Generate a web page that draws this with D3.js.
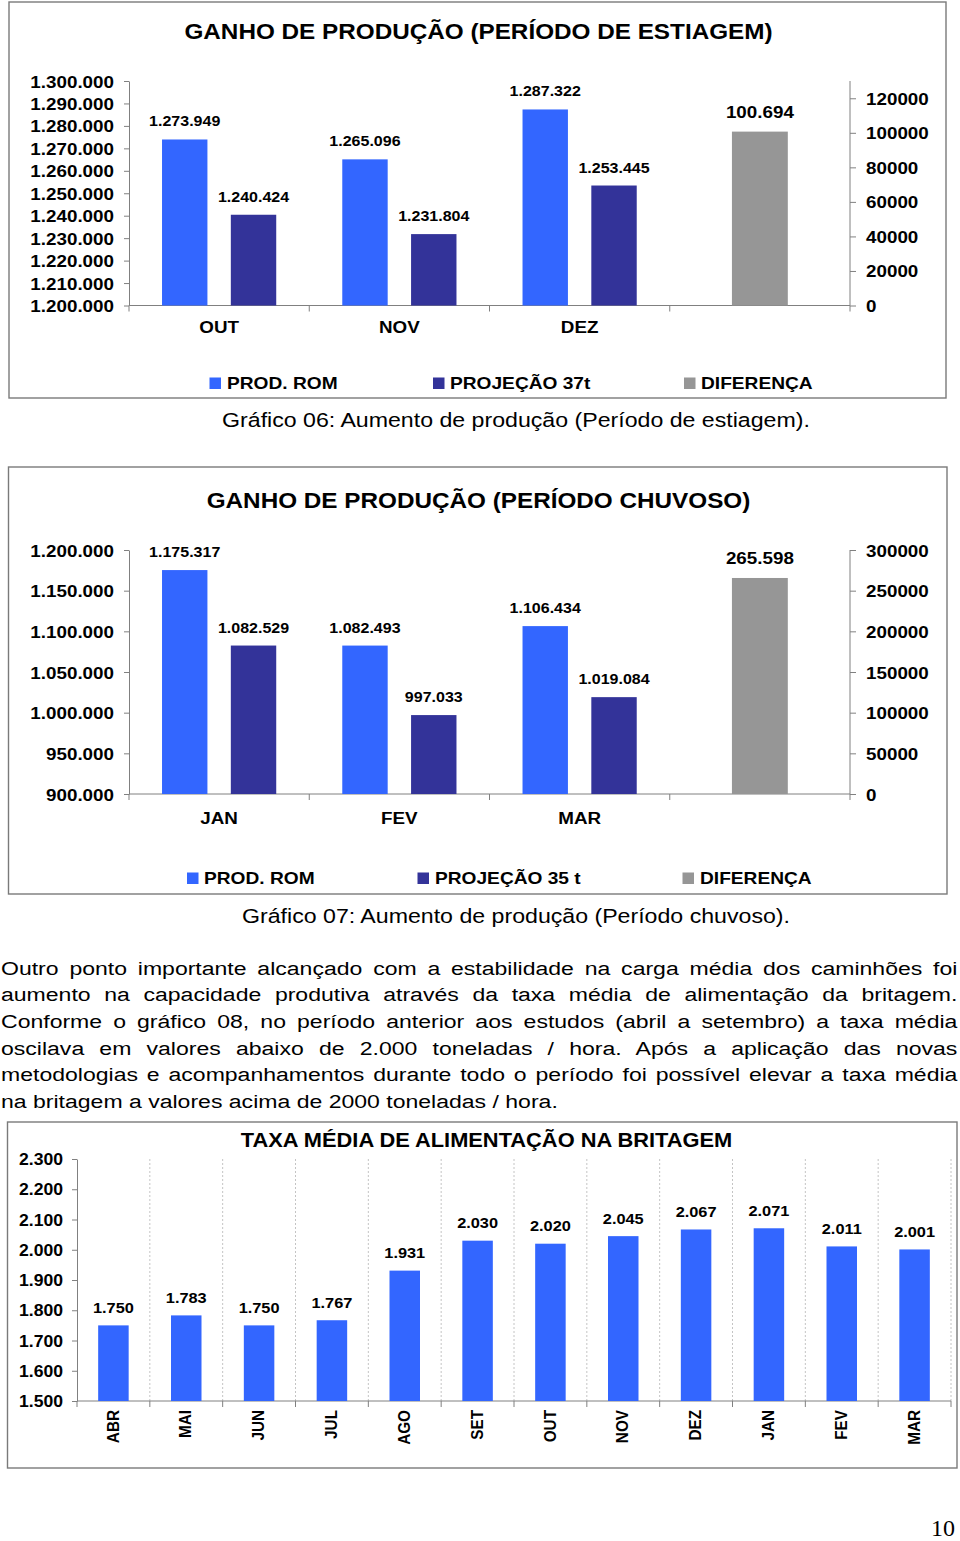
<!DOCTYPE html>
<html><head><meta charset="utf-8">
<script src="https://cdn.jsdelivr.net/npm/d3@7"></script>
<style>
body{margin:0;background:#fff;}
#wrap{position:relative;width:960px;height:1541px;overflow:hidden;background:#fff;}
svg{position:absolute;left:0;top:0;}
svg text{font-family:"Liberation Sans",Arial,Helvetica,sans-serif;fill:#000;}
#para{position:absolute;left:1px;top:955.5px;width:797px;transform:scaleX(1.2);transform-origin:0 0;
 font-family:"Liberation Sans",Arial,Helvetica,sans-serif;font-size:19.2px;line-height:26.7px;color:#000;}
#para div{text-align:justify;text-align-last:justify;white-space:nowrap;}
#para div.last{text-align:left;text-align-last:left;}
</style></head>
<body><div id="wrap"></div>
<script>
// ---------- DATA ----------
const meses1 = ["OUT","NOV","DEZ"];
const prodRom1 = [1273949, 1265096, 1287322];
const projecao1 = [1240424, 1231804, 1253445];
const diferenca1 = 100694;
const leftTicks1 = [1200000,1210000,1220000,1230000,1240000,1250000,1260000,1270000,1280000,1290000,1300000];
const rightTicks1 = [0,20000,40000,60000,80000,100000,120000];
const legend1 = ["PROD. ROM","PROJEÇÃO 37t","DIFERENÇA"];

const meses2 = ["JAN","FEV","MAR"];
const prodRom2 = [1175317, 1082493, 1106434];
const projecao2 = [1082529, 997033, 1019084];
const diferenca2 = 265598;
const leftTicks2 = [900000,950000,1000000,1050000,1100000,1150000,1200000];
const rightTicks2 = [0,50000,100000,150000,200000,250000,300000];
const legend2 = ["PROD. ROM","PROJEÇÃO 35 t","DIFERENÇA"];

const meses3 = ["ABR","MAI","JUN","JUL","AGO","SET","OUT","NOV","DEZ","JAN","FEV","MAR"];
const taxa3 = [1750,1783,1750,1767,1931,2030,2020,2045,2067,2071,2011,2001];
const ticks3 = [1500,1600,1700,1800,1900,2000,2100,2200,2300];

const paragraphLines = [
 "Outro ponto importante alcançado com a estabilidade na carga média dos caminhões foi",
 "aumento na capacidade produtiva através da taxa média de alimentação da britagem.",
 "Conforme o gráfico 08, no período anterior aos estudos (abril a setembro) a taxa média",
 "oscilava em valores abaixo de 2.000 toneladas / hora. Após a aplicação das novas",
 "metodologias e acompanhamentos durante todo o período foi possível elevar a taxa média",
 "na britagem a valores acima de 2000 toneladas / hora."
];

// ---------- SETUP ----------
const loc = d3.formatLocale({decimal:",", thousands:".", grouping:[3], currency:["",""]});
const fmtPt = loc.format(",d");
const fmtPlain = d3.format("d");
const COL = ["#3366ff","#333399","#969696"];
const AX = "#808080";
const FRAME = "#7a7a7a";
const SX = 1.12;

const wrap = d3.select("#wrap");
const svg = wrap.append("svg").attr("width",960).attr("height",1541);

function T(g,x,y,s,o={}){
  const sx = o.sx ?? SX;
  return g.append("text")
    .attr("transform",`translate(${x},${y}) scale(${sx},1)`)
    .attr("text-anchor",o.anchor||"start")
    .style("font-size",(o.size||16.8)+"px")
    .style("font-weight",o.weight||"bold")
    .text(s);
}
function styleAxis(a, tx, ty, size){
  a.attr("font-size",null).attr("font-family",null);
  a.select(".domain").attr("stroke",AX).attr("stroke-width",1);
  a.selectAll(".tick line").attr("stroke",AX).attr("stroke-width",1);
  a.selectAll(".tick text").attr("x",null).attr("dy",null)
    .attr("transform",`translate(${tx},${ty}) scale(${SX},1)`)
    .style("font-size",size+"px").style("font-weight","bold").attr("fill","#000");
}

function ganho(c){
  const g = svg.append("g");
  g.append("rect").attr("x",c.frame[0]).attr("y",c.frame[1]).attr("width",c.frame[2]).attr("height",c.frame[3])
    .attr("fill","none").attr("stroke",FRAME).attr("stroke-width",1.4);
  T(g,478.5,c.titleY,c.title,{size:21.7,anchor:"middle"});

  const cats = c.meses.concat(["DIF"]);
  const x = d3.scaleBand().domain(cats).range([129,850]);
  const bw = x.bandwidth();
  const xi = d3.scaleBand().domain(["rom","proj"]).range([0,bw]).paddingInner(0.34).paddingOuter(0.48);
  const yL = d3.scaleLinear().domain(c.leftDom).range([c.y0,c.y1]);
  const yR = d3.scaleLinear().domain(c.rightDom).range([c.y0,c.y1]);

  // axes
  const aL = g.append("g").attr("transform","translate(129,0)")
    .call(d3.axisLeft(yL).tickValues(c.leftTicks).tickFormat(fmtPt).tickSize(5).tickSizeOuter(0));
  styleAxis(aL,-15,6,16.8);
  const aR = g.append("g").attr("transform","translate(850,0)")
    .call(d3.axisRight(yR).tickValues(c.rightTicks).tickFormat(fmtPlain).tickSize(6).tickSizeOuter(0));
  aR.select(".domain").attr("d",`M0,${c.y0}V${c.y1}`);
  styleAxis(aR,16,6,16.8);

  g.append("line").attr("x1",129).attr("x2",850).attr("y1",c.y0).attr("y2",c.y0).attr("stroke",AX);
  const bounds = cats.map(d=>x(d)).concat([850]);
  g.selectAll(".bt").data(bounds).join("line").attr("x1",d=>d).attr("x2",d=>d)
    .attr("y1",c.y0).attr("y2",c.y0+6).attr("stroke",AX);

  // bars
  const series = [["rom",c.rom,COL[0]],["proj",c.proj,COL[1]]];
  series.forEach(([k,vals,col])=>{
    g.selectAll(".b"+k).data(c.meses).join("rect")
      .attr("x",(d)=>x(d)+xi(k)).attr("width",xi.bandwidth())
      .attr("y",(d,i)=>yL(vals[i])).attr("height",(d,i)=>c.y0-yL(vals[i]))
      .attr("fill",col);
    c.meses.forEach((m,i)=>T(g,x(m)+xi(k)+xi.bandwidth()/2,yL(vals[i])-13,fmtPt(vals[i]),{size:14.3,anchor:"middle"}));
  });
  const dw = bw*0.31;
  g.append("rect").attr("x",x("DIF")+(bw-dw)/2).attr("width",dw)
    .attr("y",yR(c.dif)).attr("height",c.y0-yR(c.dif)).attr("fill",COL[2]);
  T(g,x("DIF")+bw/2,yR(c.dif)-14,fmtPt(c.dif),{size:16.8,anchor:"middle"});

  c.meses.forEach(m=>T(g,x(m)+bw/2,c.catY,m,{size:16.8,anchor:"middle"}));

  // legend
  c.legend.forEach((l,i)=>{
    g.append("rect").attr("x",c.legSq[i]).attr("y",c.legY-11.5).attr("width",11.5).attr("height",11.5).attr("fill",COL[i]);
    T(g,c.legTx[i],c.legY,l,{size:17.1});
  });
  // caption
  T(svg,516,c.capY,c.caption,{size:19.3,anchor:"middle",weight:"normal",sx:1.2});
}

ganho({frame:[9,2,937,396], title:"GANHO DE PRODUÇÃO (PERÍODO DE ESTIAGEM)", titleY:39,
  meses:meses1, rom:prodRom1, proj:projecao1, dif:diferenca1,
  leftDom:[1200000,1300000], rightDom:[0,130000], y0:305.5, y1:81,
  leftTicks:leftTicks1, rightTicks:rightTicks1, catY:333,
  legend:legend1, legSq:[209.5,433,684], legTx:[227,450,701], legY:389,
  caption:"Gráfico 06: Aumento de produção (Período de estiagem).", capY:426.5});

ganho({frame:[8.5,467,938.5,427], title:"GANHO DE PRODUÇÃO (PERÍODO CHUVOSO)", titleY:508,
  meses:meses2, rom:prodRom2, proj:projecao2, dif:diferenca2,
  leftDom:[900000,1200000], rightDom:[0,300000], y0:794, y1:550,
  leftTicks:leftTicks2, rightTicks:rightTicks2, catY:824,
  legend:legend2, legSq:[187,417.5,682.5], legTx:[204,435,700], legY:884,
  caption:"Gráfico 07: Aumento de produção (Período chuvoso).", capY:923});

// ---------- CHART 3 ----------
(function(){
  const g = svg.append("g");
  g.append("rect").attr("x",7.5).attr("y",1122).attr("width",949.5).attr("height",346)
    .attr("fill","none").attr("stroke",FRAME).attr("stroke-width",1.4);
  const x = d3.scaleBand().domain(meses3).range([77,951]);
  const bw = x.bandwidth();
  const y = d3.scaleLinear().domain([1500,2300]).range([1401,1159]);
  const bounds = meses3.map(d=>x(d)).concat([951]);
  g.selectAll(".grid").data(bounds.slice(1)).join("line")
    .attr("x1",d=>d).attr("x2",d=>d).attr("y1",1159).attr("y2",1401)
    .attr("stroke","#c4c4c4").attr("stroke-dasharray","2,2");
  T(g,486.5,1147,"TAXA MÉDIA DE ALIMENTAÇÃO NA BRITAGEM",{size:19.5,anchor:"middle"});
  const a = g.append("g").attr("transform","translate(77,0)")
    .call(d3.axisLeft(y).tickValues(ticks3).tickFormat(fmtPt).tickSize(5).tickSizeOuter(0));
  styleAxis(a,-14,5.6,15.7);
  g.append("line").attr("x1",77).attr("x2",951).attr("y1",1401).attr("y2",1401).attr("stroke",AX);
  g.selectAll(".bt").data(bounds).join("line").attr("x1",d=>d).attr("x2",d=>d)
    .attr("y1",1401).attr("y2",1407).attr("stroke",AX);
  const w = 30.5;
  g.selectAll(".bar").data(meses3).join("rect")
    .attr("x",d=>x(d)+(bw-w)/2).attr("width",w)
    .attr("y",(d,i)=>y(taxa3[i])).attr("height",(d,i)=>1401-y(taxa3[i])).attr("fill",COL[0]);
  meses3.forEach((m,i)=>{
    T(g,x(m)+bw/2,y(taxa3[i])-12.5,fmtPt(taxa3[i]),{size:14.6,anchor:"middle"});
    g.append("text").attr("transform",`translate(${x(m)+bw/2-1},1410) rotate(-90) scale(1,${SX})`)
      .attr("text-anchor","end").attr("dy","0.36em")
      .style("font-size","15.3px").style("font-weight","bold").text(m);
  });
})();

// page number
svg.append("text").attr("x",955).attr("y",1536).attr("text-anchor","end")
  .style("font-family","'Liberation Serif','Times New Roman',serif").style("font-size","24px").text("10");

// paragraph
const para = wrap.append("div").attr("id","para");
paragraphLines.forEach((l,i)=>para.append("div").attr("class",i===paragraphLines.length-1?"last":null).text(l));
</script>
</body></html>
